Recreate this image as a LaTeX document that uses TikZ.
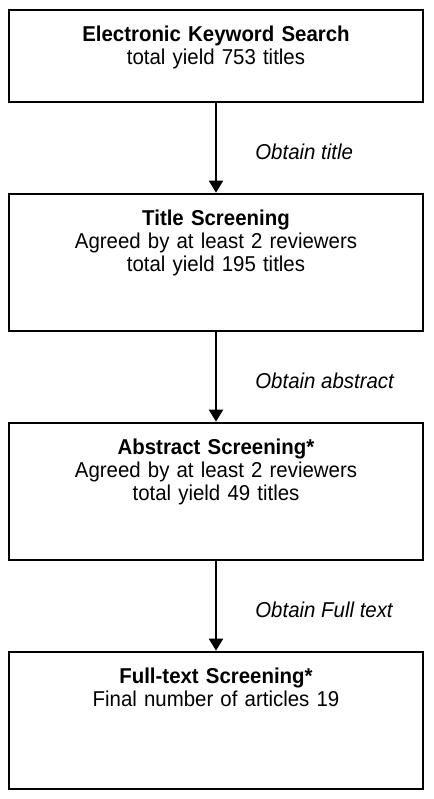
\documentclass[tikz,border=0pt]{standalone}
\usepackage{fontspec}
\setmainfont[FakeStretch=0.95]{Liberation Sans}
\usetikzlibrary{matrix, arrows.meta}

\begin{document}
\begin{tikzpicture} [x = 1pt, y = 1pt,
  stage/.style = {draw, line width = 2pt, inner sep = 0pt, text width = 413pt, align = center, text height = 31.5pt, font = \fontsize{21.5}{23}\selectfont},
  flow/.style = {line width = 2pt, -{Triangle[width = 14pt, length = 12pt]}},
  stagelabel/.style = {anchor = west, xshift = 35pt, font = \fontsize{21.5}{23}\selectfont\itshape}]
\useasboundingbox (0,0) rectangle (433,-799);
\matrix (m) [matrix of nodes, row sep = 90pt, inner sep = 0pt, anchor = north] at (216,-8.5){
\node[stage, text depth = 60.5pt](search){\textbf{Electronic Keyword Search}\\ total yield 753 titles}; \\
\node[stage, text depth = 105.5pt](title){\textbf{Title Screening}\\ Agreed by at least 2 reviewers\\ total yield 195 titles}; \\
\node[stage, text depth = 105.5pt](abstract){\textbf{Abstract Screening*}\\ Agreed by at least 2 reviewers\\ total yield 49 titles}; \\
\node[stage, text depth = 105.5pt](fulltext){\textbf{Full-text Screening*}\\ Final number of articles 19}; \\
};
\draw [flow](search) -- (title) node[stagelabel, pos=.55]{Obtain title};
\draw [flow](title) -- (abstract) node[stagelabel, pos=.55]{Obtain abstract};
\draw [flow](abstract) -- (fulltext) node[stagelabel, pos=.55]{Obtain Full text};
\end{tikzpicture}
\end{document}
